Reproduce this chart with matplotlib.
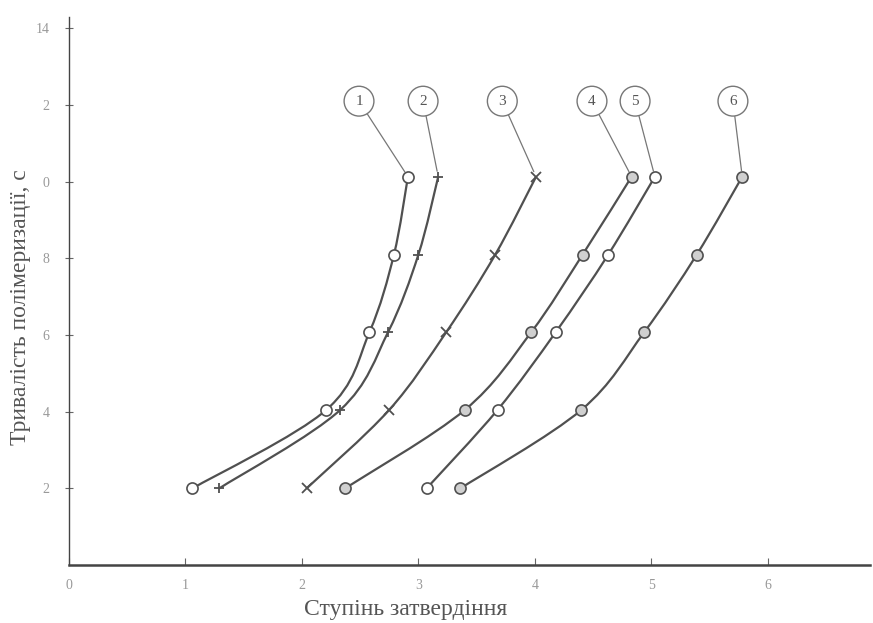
import numpy as np
import matplotlib
matplotlib.use("Agg")
import matplotlib.pyplot as plt
from matplotlib.path import Path
from matplotlib.patches import PathPatch

# ---- data ----
y_vals = [2.0, 4.05, 6.08, 8.1, 10.13]
x1 = [1.06, 2.21, 2.58, 2.79, 2.91]
x2 = [1.29, 2.33, 2.74, 3.00, 3.17]
x3 = [2.04, 2.75, 3.24, 3.66, 4.01]
x4 = [2.37, 3.40, 3.97, 4.41, 4.83]
x5 = [3.07, 3.68, 4.18, 4.63, 5.03]
x6 = [3.36, 4.40, 4.94, 5.39, 5.78]
series = [x1, x2, x3, x4, x5, x6]
curve_labels = ["1", "2", "3", "4", "5", "6"]
label_x = [2.49, 3.04, 3.72, 4.49, 4.86, 5.70]
label_y = [12.1, 12.1, 12.1, 12.1, 12.1, 12.1]
x_ticks = [0, 1, 2, 3, 4, 5, 6]
y_ticks = [2, 4, 6, 8, 10, 12, 14]
y_ticklabels = ["2", "4", "6", "8", "0", "2", "14"]
xlabel = "Ступінь затвердіння"
ylabel = "Тривалість полімеризації, с"

plt.rcParams['font.family'] = ['Liberation Serif', 'DejaVu Serif']

fig = plt.figure(figsize=(8.73, 6.23), dpi=100)
ax = fig.add_axes([0.079, 0.093, 0.918, 0.88])
ax.set_xlim(0, 6.88)
ax.set_ylim(0, 14.3)

line_col = "#505050"


def smooth_path(xs, ys):
    pts = np.column_stack([xs, ys])
    n = len(pts)
    verts = [tuple(pts[0])]
    codes = [Path.MOVETO]
    for i in range(n - 1):
        p0 = pts[i - 1] if i > 0 else pts[i]
        p1 = pts[i]
        p2 = pts[i + 1]
        p3 = pts[i + 2] if i + 2 < n else pts[i + 1]
        c1 = p1 + (p2 - p0) / 6.0
        c2 = p2 - (p3 - p1) / 6.0
        verts += [tuple(c1), tuple(c2), tuple(p2)]
        codes += [Path.CURVE4, Path.CURVE4, Path.CURVE4]
    return Path(verts, codes)


marker_styles = [
    dict(marker='o', ms=8, mfc='white', mec=line_col, mew=1.2),
    dict(marker='+', ms=7, mfc='none', mec=line_col, mew=1.3),
    dict(marker='x', ms=7, mfc='none', mec=line_col, mew=1.3),
    dict(marker='o', ms=8, mfc='#d0d0d0', mec=line_col, mew=1.2),
    dict(marker='o', ms=8, mfc='white', mec=line_col, mew=1.2),
    dict(marker='o', ms=8, mfc='#d0d0d0', mec=line_col, mew=1.2),
]

for xs, ms in zip(series, marker_styles):
    patch = PathPatch(smooth_path(xs, y_vals), fc='none', ec=line_col, lw=1.6,
                      transform=ax.transData, zorder=2)
    ax.add_patch(patch)
    ax.plot(xs, y_vals, linestyle='none', zorder=3, **ms)

for xs, lab, lx, ly in zip(series, curve_labels, label_x, label_y):
    ax.annotate(lab, xy=(xs[-1], y_vals[-1]), xytext=(lx, ly),
                ha='center', va='center', fontsize=11, color='#555555',
                bbox=dict(boxstyle='circle,pad=0.55', fc='white', ec='#777777', lw=1.0),
                arrowprops=dict(arrowstyle='-', color='#777777', lw=0.9,
                                shrinkA=0, shrinkB=4),
                zorder=4)

for s in ['top', 'right']:
    ax.spines[s].set_visible(False)
for s in ['left', 'bottom']:
    ax.spines[s].set_color('#444444')
ax.spines['bottom'].set_linewidth(1.8)
ax.spines['left'].set_linewidth(1.0)

ax.set_xticks(x_ticks)
ax.set_xticklabels([str(v) for v in x_ticks])
ax.set_yticks(y_ticks)
ax.set_yticklabels(y_ticklabels)
ax.tick_params(axis='x', direction='in', length=5, color='#666666',
               labelcolor='#999999', labelsize=10, pad=10)
ax.tick_params(axis='y', direction='inout', length=6, color='#666666',
               labelcolor='#999999', labelsize=10, pad=11)

ax.set_xlabel(xlabel, fontsize=17, color='#555555')
ax.xaxis.set_label_coords(0.42, -0.062)
ax.set_ylabel(ylabel, fontsize=17, color='#555555')
ax.yaxis.set_label_coords(-0.047, 0.47)

fig.savefig("out.png", dpi=100)
